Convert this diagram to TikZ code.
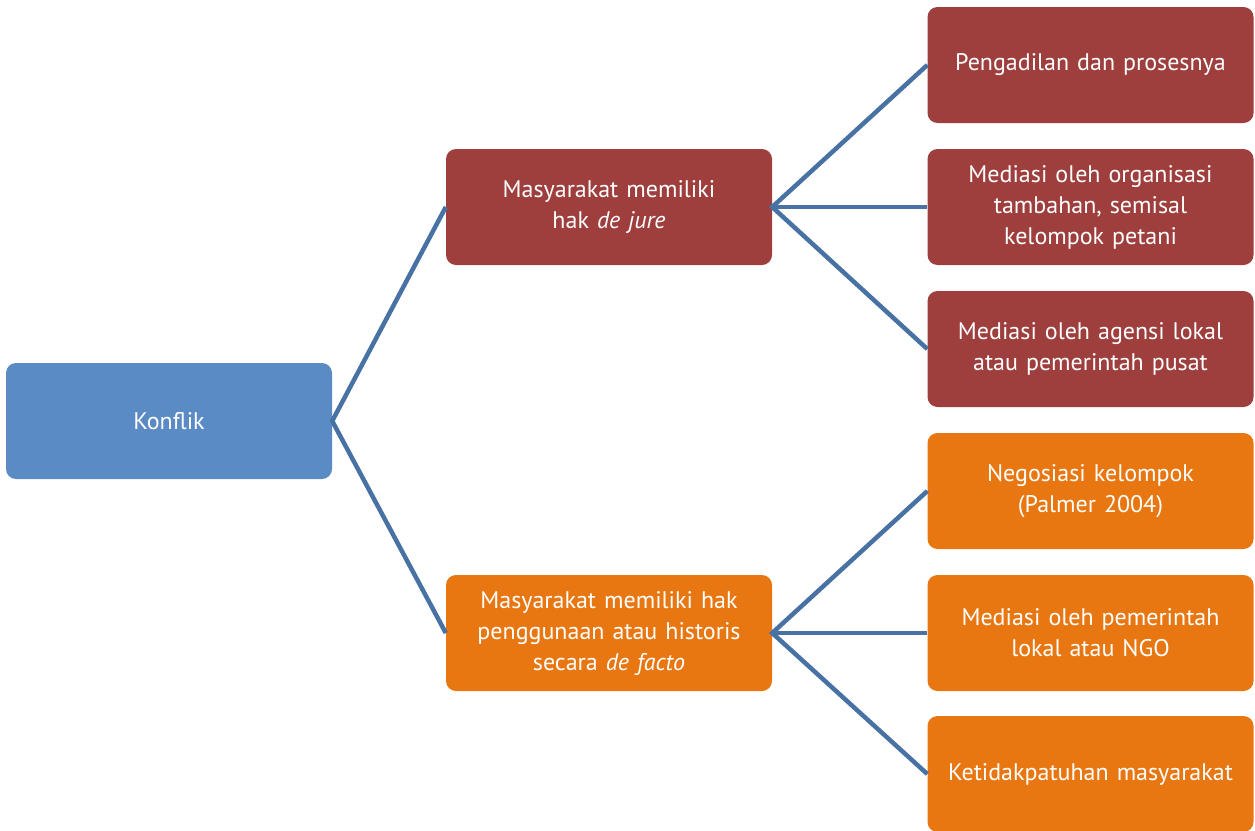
\documentclass[tikz,border=0pt]{standalone}
\usepackage{fontspec}
\setmainfont{PT Sans}
\definecolor{cblue}{HTML}{5B8BC5}
\definecolor{cred}{HTML}{9E3F3E}
\definecolor{corange}{HTML}{E87711}
\definecolor{cline}{HTML}{4872A3}
\begin{document}
\begin{tikzpicture}[x=1pt,y=-1pt,
  box/.style={rounded corners=10pt, minimum width=326pt, minimum height=116pt, inner sep=0pt,
    text=white, align=center, font=\fontsize{24}{31}\selectfont, text width=318pt},
  bluebox/.style={box, fill=cblue},
  redbox/.style={box, fill=cred},
  orangebox/.style={box, fill=corange},
  conn/.style={draw=cline, line width=4.5pt}]
\useasboundingbox (0,0) rectangle (1255,830);
\node[bluebox] (k) at (169,421) {Konflik};
\node[redbox] (a) at (609,207) {Masyarakat memiliki\\hak \textit{de jure}};
\node[orangebox] (b) at (609,633) {Masyarakat memiliki hak\\penggunaan atau historis\\secara \textit{de facto}};
\node[redbox] (r1) at (1090.5,65) {Pengadilan dan prosesnya};
\node[redbox] (r2) at (1090.5,207) {Mediasi oleh organisasi\\tambahan, semisal\\kelompok petani};
\node[redbox] (r3) at (1090.5,349) {Mediasi oleh agensi lokal\\atau pemerintah pusat};
\node[orangebox] (r4) at (1090.5,491) {Negosiasi kelompok\\(Palmer 2004)};
\node[orangebox] (r5) at (1090.5,633) {Mediasi oleh pemerintah\\lokal atau NGO};
\node[orangebox] (r6) at (1090.5,774) {Ketidakpatuhan masyarakat};
\draw[conn] (a.west) -- (k.east) -- (b.west);
\draw[conn] (r1.west) -- (a.east) -- (r3.west);
\draw[conn] (a.east) -- (r2.west);
\draw[conn] (r4.west) -- (b.east) -- (r6.west);
\draw[conn] (b.east) -- (r5.west);
\end{tikzpicture}
\end{document}
